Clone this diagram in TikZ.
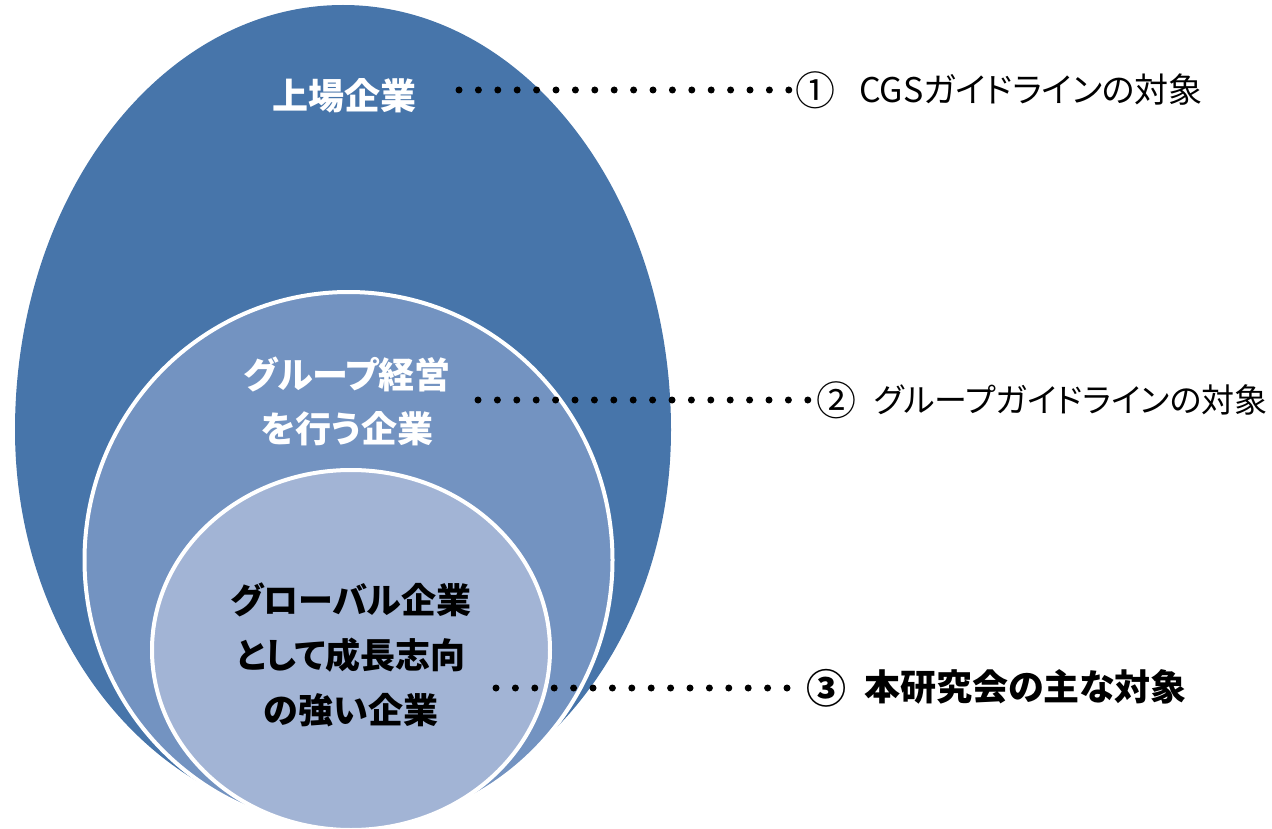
\documentclass[tikz,border=0pt]{standalone}
\usepackage{fontspec}
\newfontfamily\jpfont[RawFeature=+palt]{Noto Sans CJK JP}
\usetikzlibrary{positioning}
\definecolor{outerblue}{RGB}{71,117,170}
\definecolor{midblue}{RGB}{115,147,193}
\definecolor{innerblue}{RGB}{162,180,213}
\newcommand{\circnum}[1]{{\fontsize{40}{40}\selectfont\raisebox{-0.06em}{#1}}}
\begin{document}
\begin{tikzpicture}[
x=1pt,y=-1pt,
ring/.style={draw=white,line width=4pt},
intext/.style={
  font=\jpfont\bfseries\fontsize{36}{54}\selectfont,
  align=center
  },
tag/.style={
  font=\jpfont\fontsize{34}{40}\selectfont,
  anchor=west,
  inner sep=0pt
  },
dotline/.style={line width=7pt,line cap=round,dash pattern=on 0pt off 19.4pt}
]
\useasboundingbox (0,0) rectangle (1272,829);
\begin{scope}
\clip (0,0) rectangle (1272,829);
\fill[outerblue] (15,430) arc[start angle=180,end angle=0,x radius=328pt,y radius=425pt]
  arc[start angle=0,end angle=-180,x radius=328pt,y radius=392pt] -- cycle;
\filldraw[midblue,ring] (348.5,560) ellipse [x radius=264pt,y radius=268pt];
\filldraw[innerblue,ring] (351,650) ellipse [x radius=199pt,y radius=180pt];
\end{scope}
% texts in the ellipses
\node[intext,text=white] (listed) at (344,96) {上場企業};
\node[intext,text=white] (group) at (347,401) {グループ経営\\を行う企業};
\node[intext,font=\jpfont\bfseries\fontsize{35}{55}\selectfont] (global) at (351,655) {グローバル企業\\として成長志向\\の強い企業};
% labels on the right
\node[tag] (l1) at (795,90) {\circnum{①}\hspace{0.7em}CGSガイドラインの対象};
\node[tag,font=\jpfont\fontsize{33}{40}\selectfont] (l2) at (816,400) {\circnum{②}\hspace{0.55em}グループガイドラインの対象};
\node[tag,font=\jpfont\bfseries\fontsize{36}{40}\selectfont] (l3) at (806,688) {\circnum{③}\hspace{0.5em}本研究会の主な対象};
\coordinate (d1) at (459,90);
\coordinate (d2) at (478,400);
\coordinate (d3) at (496,688);
\draw[dotline] (d1) -- (l1.west);
\draw[dotline] (d2) -- (l2.west);
\draw[dotline] (d3) -- (l3.west);
\end{tikzpicture}
\end{document}
